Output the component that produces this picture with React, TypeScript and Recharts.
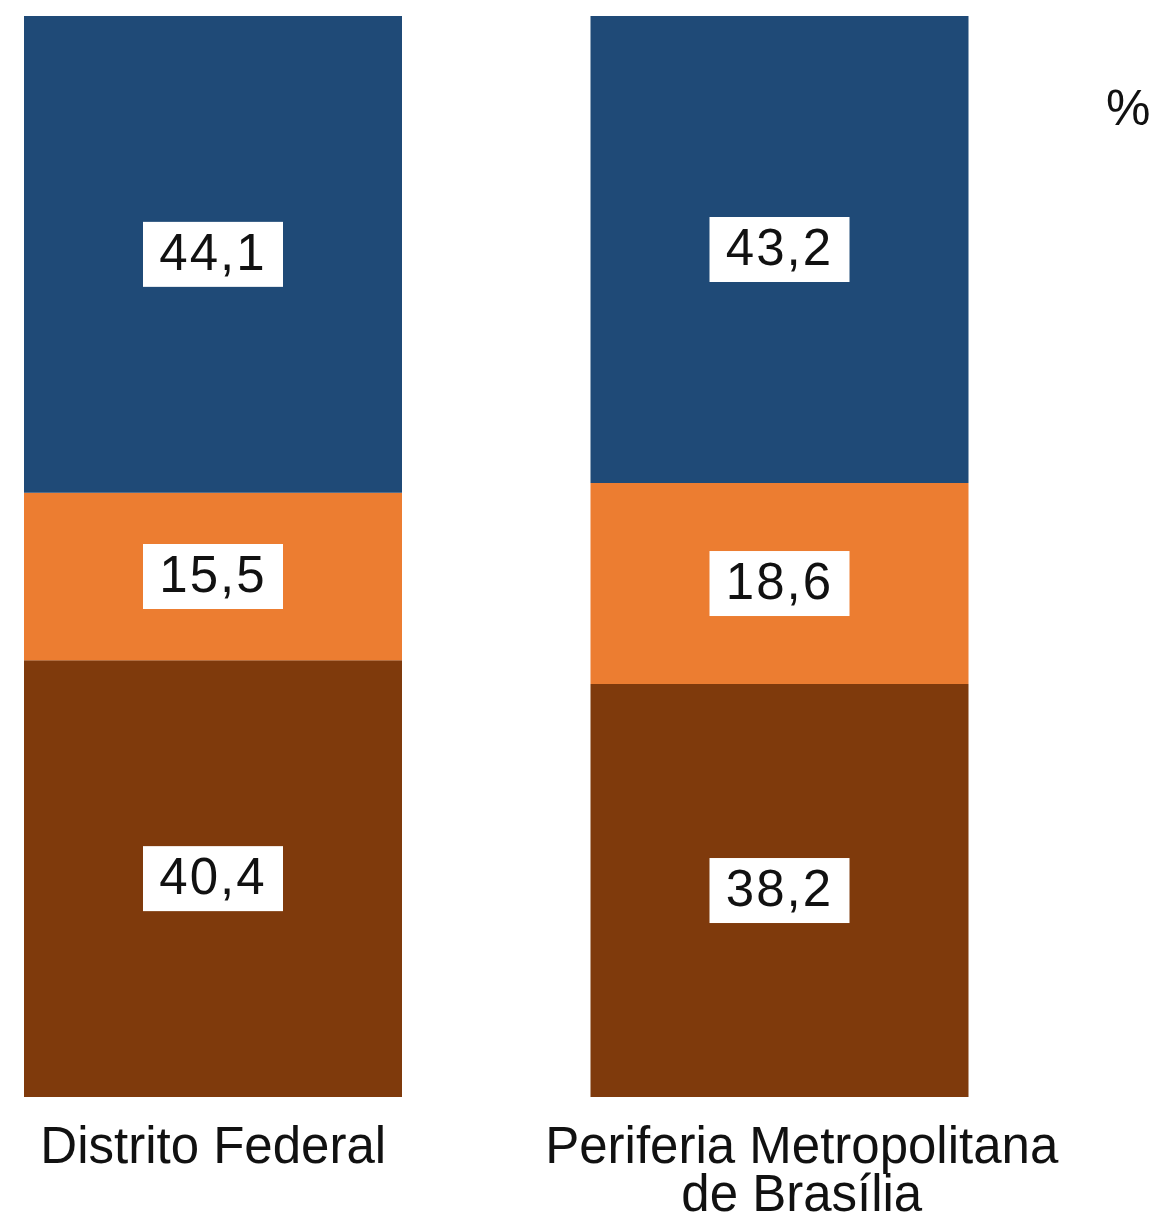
import { BarChart, Bar, XAxis, YAxis, LabelList } from "recharts";

const categorias = ["Distrito Federal", "Periferia Metropolitana\nde Brasília"];
const inferior = [40.4, 38.2];
const intermediario = [15.5, 18.6];
const superior = [44.1, 43.2];

const CORES = {
  inferior: "#7f3a0c",
  intermediario: "#ec7d31",
  superior: "#1f4a77",
};

const FONT = "'Liberation Sans', Arial, sans-serif";

const data = categorias.map((nome, i) => ({
  nome,
  inferior: inferior[i],
  intermediario: intermediario[i],
  superior: superior[i],
}));

function ValueBox(props: any) {
  const { x, y, width, height, value } = props;
  const cx = x + width / 2;
  const cy = y + height / 2;
  const w = 140;
  const h = 65;
  return (
    <g>
      <rect x={cx - w / 2} y={cy - h / 2} width={w} height={h} fill="#ffffff" />
      <text
        x={cx}
        y={cy + 2}
        textAnchor="middle"
        dominantBaseline="middle"
        fontFamily={FONT}
        fontSize={51}
        letterSpacing={2}
        fill="#111"
      >
        {String(value).replace(".", ",")}
      </text>
    </g>
  );
}

function CategoryTick(props: any) {
  const { x, y, payload } = props;
  const lines = String(payload.value).split("\n");
  const dx = lines.length > 1 ? 22 : 0;
  return (
    <text
      x={x + dx}
      y={y + 58}
      textAnchor="middle"
      fontFamily={FONT}
      fontSize={51}
      fill="#111"
    >
      {lines.map((l, i) => (
        <tspan key={i} x={x + dx} dy={i === 0 ? 0 : 48}>
          {l}
        </tspan>
      ))}
    </text>
  );
}

export default function App() {
  return (
    <div style={{ position: "absolute", left: 0, top: 0, width: 1160, height: 1217, background: "#fff" }}>
      <BarChart
        width={1160}
        height={1217}
        data={data}
        margin={{ top: 16, right: 97, bottom: 0, left: -70 }}
        barSize={378}
      >
        <XAxis
          dataKey="nome"
          axisLine={false}
          tickLine={false}
          height={120}
          tick={<CategoryTick />}
          interval={0}
        />
        <YAxis hide domain={[0, 100]} />
        <Bar dataKey="inferior" stackId="a" fill={CORES.inferior} isAnimationActive={false}>
          <LabelList dataKey="inferior" content={<ValueBox />} />
        </Bar>
        <Bar dataKey="intermediario" stackId="a" fill={CORES.intermediario} isAnimationActive={false}>
          <LabelList dataKey="intermediario" content={<ValueBox />} />
        </Bar>
        <Bar dataKey="superior" stackId="a" fill={CORES.superior} isAnimationActive={false}>
          <LabelList dataKey="superior" content={<ValueBox />} />
        </Bar>
      </BarChart>
      <div
        style={{
          position: "absolute",
          left: 1106,
          top: 78,
          fontFamily: FONT,
          fontSize: 50,
          color: "#111",
          lineHeight: "60px",
        }}
      >
        %
      </div>
    </div>
  );
}
